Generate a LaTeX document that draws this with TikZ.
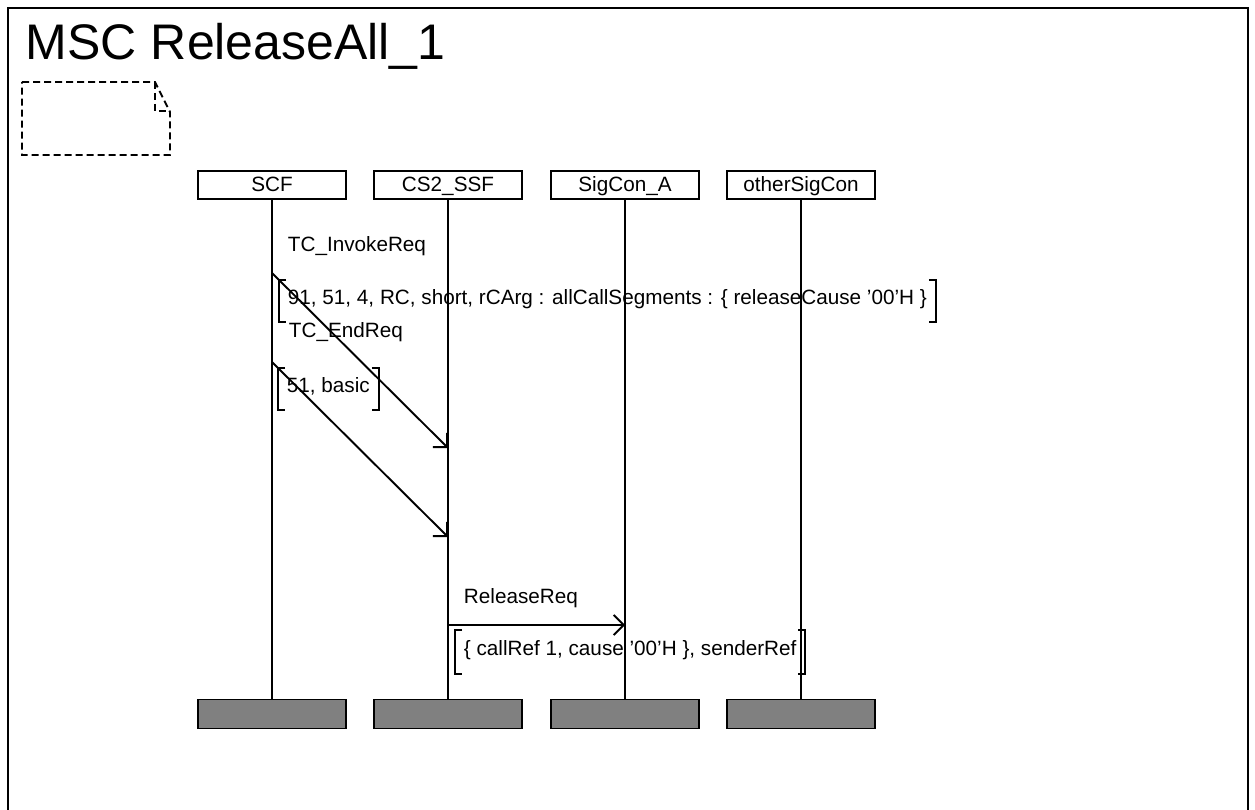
\documentclass[tikz,border=0pt]{standalone}
\usepackage{fontspec}
\setmainfont{Liberation Sans}
\usetikzlibrary{arrows.meta}
\newcommand\lblfont{\fontsize{20.7}{25}\selectfont}
\newcommand\titlefont{\fontsize{50}{60}\selectfont}
\newcommand\parbrackets[1]{%
  \draw ([xshift=7pt]#1.north west) -- (#1.north west) -- (#1.south west) -- ([xshift=7pt]#1.south west);
  \draw ([xshift=-7pt]#1.north east) -- (#1.north east) -- (#1.south east) -- ([xshift=-7pt]#1.south east);}
\begin{document}
\begin{tikzpicture}[x=1pt,y=-1pt,line width=1.9pt,
  inst/.style={draw,minimum width=148pt,minimum height=28pt,inner sep=0pt,text height=17pt,text depth=3pt,font=\lblfont},
  endbox/.style={draw,fill=black!50,minimum width=148pt,minimum height=29pt,inner sep=0pt},
  lbl/.style={anchor=base west,inner sep=0pt,font=\lblfont},
  param/.style={anchor=north west,inner xsep=8pt,inner ysep=0pt,minimum height=40pt,text height=13pt,text depth=6pt,font=\lblfont},
  msg/.style={-{Straight Barb[length=10pt,width=20pt]}},
  note/.style={dash pattern=on 7pt off 4pt}]
\useasboundingbox (0,0) rectangle (1255,810);
% frame
\draw (8,810) -- (8,8) -- (1248,8) -- (1248,810);
\node[anchor=base west,inner sep=0pt,font=\titlefont] (title) at (25,60) {MSC ReleaseAll\_1};
% comment symbol
\draw[note] (22,82) -- (155,82) -- (170,112) -- (170,155) -- (22,155) -- cycle;
\draw[note] (155,82) -- (155,111) -- (170,111);
% instances
\node[inst] (scf) at (272,185) {SCF};
\node[inst] (ssf) at (448,185) {CS2\_SSF};
\node[inst] (sca) at (625,185) {SigCon\_A};
\node[inst] (osc) at (801,185) {otherSigCon};
\node[endbox] (scfE) at (272,714) {};
\node[endbox] (ssfE) at (448,714) {};
\node[endbox] (scaE) at (625,714) {};
\node[endbox] (oscE) at (801,714) {};
\draw (scf.south) -- (scfE.north);
\draw (ssf.south) -- (ssfE.north);
\draw (sca.south) -- (scaE.north);
\draw (osc.south) -- (oscE.north);
% message 1
\coordinate (m1s) at (272,273);
\coordinate (m1e) at (448,448);
\draw[msg] (m1s) -- (m1e);
\node[lbl] (m1l) at (287,252) {TC\_InvokeReq};
\node[param] (m1p) at (279,280) {91, 51, 4, RC, short, rCArg : allCallSegments : \{ releaseCause '00'H \}};
\parbrackets{m1p}
% message 2
\coordinate (m2s) at (272,362);
\coordinate (m2e) at (448,537);
\draw[msg] (m2s) -- (m2e);
\node[lbl] (m2l) at (288,337) {TC\_EndReq};
\node[param] (m2p) at (278,368) {51, basic};
\parbrackets{m2p}
% message 3
\coordinate (m3s) at (448,625);
\coordinate (m3e) at (625,625);
\draw[msg] (m3s) -- (m3e);
\node[lbl] (m3l) at (463,603) {ReleaseReq};
\node[param,minimum height=42pt] (m3p) at (455,630) {\{ callRef 1, cause '00'H \}, senderRef};
\parbrackets{m3p}
\end{tikzpicture}
\end{document}
